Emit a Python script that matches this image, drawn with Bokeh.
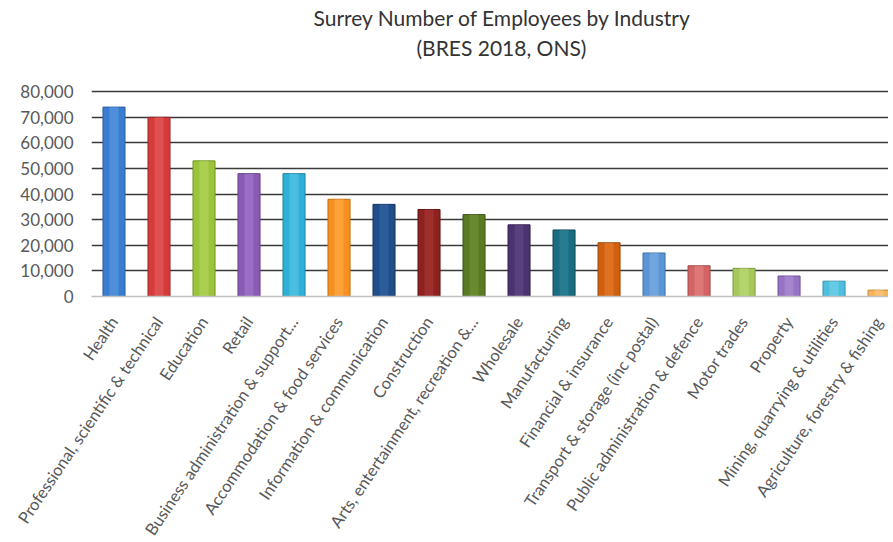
from bokeh.plotting import figure
from bokeh.models import (ColumnDataSource, Range1d, FixedTicker, NumeralTickFormatter, Title)
from bokeh.embed import file_html
from bokeh.resources import INLINE
import math

industries = [
    "Health", "Professional, scientific & technical", "Education", "Retail",
    "Business administration & support...", "Accommodation & food services",
    "Information & communication", "Construction", "Arts, entertainment, recreation &...",
    "Wholesale", "Manufacturing", "Financial & insurance", "Transport & storage (inc postal)",
    "Public administration & defence", "Motor trades", "Property",
    "Mining, quarrying & utilities", "Agriculture, forestry & fishing",
]
employees = [74000, 70000, 53000, 48000, 48000, 38000, 36000, 34000, 32000,
             28000, 26000, 21000, 17000, 12000, 11000, 8000, 6000, 2500]
bar_colors = ["#3A7CD0", "#D63B3B", "#9BC43C", "#8A5BB5", "#2FB0D6", "#F7901E",
              "#1F4E8A", "#8E2220", "#5A7A24", "#4B3370", "#1A6C80", "#D0600E",
              "#5B95D6", "#D46464", "#A6C95B", "#9673C4", "#4EC0DE", "#F5B45A"]
edge_colors = ["#2A5E9E", "#A02828", "#75952A", "#66428A", "#1F86A4", "#C06E10",
               "#143660", "#601614", "#3E5618", "#33224E", "#104A58", "#9C460A",
               "#3F70A8", "#A44848", "#7E9A40", "#70529A", "#3592AC", "#C88A3A"]
hi_colors = ["#6BA3E6", "#EC6A6A", "#BEE06A", "#AE85D6", "#6CD0EE", "#FFB860",
             "#3C6EAA", "#B2403C", "#7C9C3E", "#6B5294", "#3A90A4", "#F08A3A",
             "#8AB8EA", "#EC9090", "#C6E288", "#B89AE0", "#84DAF0", "#FFD08A"]
y_ticks = [0, 10000, 20000, 30000, 40000, 50000, 60000, 70000, 80000]
title_main = "Surrey Number of Employees by Industry"
title_sub = "(BRES 2018, ONS)"

xs = list(range(len(industries)))
src = ColumnDataSource(dict(x=xs, top=employees, color=bar_colors,
                            edge=edge_colors, hi=hi_colors))

p = figure(frame_width=797, frame_height=237, output_backend="svg",
           toolbar_location=None, x_range=Range1d(-0.5, 17.21),
           y_range=Range1d(0, 92600), min_border_left=91, min_border_right=0,
           min_border_top=0, min_border_bottom=0)
p.title = None
p.outline_line_color = None
p.background_fill_color = "white"

sub = Title(text=title_sub, align="left", offset=325, text_font="Lato",
            text_font_size="21px", text_font_style="normal", text_color="#333333",
            standoff=0)
main = Title(text=title_main, align="left", offset=222, text_font="Lato",
             text_font_size="21px", text_font_style="normal", text_color="#333333",
             standoff=5)
p.add_layout(sub, "above")
p.add_layout(main, "above")

p.vbar(x="x", top="top", width=0.49, bottom=0, source=src,
       fill_color="color", line_color="edge", line_width=1)
p.vbar(x="x", top="top", width=0.2, bottom=0, source=src,
       fill_color="hi", fill_alpha=0.45, line_color=None)

p.xgrid.visible = False
p.ygrid.ticker = FixedTicker(ticks=y_ticks[1:])
p.ygrid.grid_line_color = "#3a3a3a"
p.ygrid.grid_line_width = 1.4

p.yaxis.ticker = FixedTicker(ticks=y_ticks)
p.yaxis.formatter = NumeralTickFormatter(format="0,0")
p.yaxis.axis_line_color = None
p.yaxis.major_tick_line_color = None
p.yaxis.major_tick_out = 0
p.yaxis.minor_tick_line_color = None
p.yaxis.minor_tick_out = 0
p.yaxis.major_label_standoff = 18
p.yaxis.major_label_text_font = "Lato"
p.yaxis.major_label_text_font_size = "17px"
p.yaxis.major_label_text_color = "#595959"

p.xaxis.ticker = FixedTicker(ticks=xs)
p.xaxis.major_label_overrides = {i: n for i, n in zip(xs, industries)}
p.xaxis.axis_line_color = "#BFBFBF"
p.xaxis.axis_line_width = 1.5
p.xaxis.major_tick_line_color = None
p.xaxis.minor_tick_line_color = None
p.xaxis.major_label_orientation = math.radians(56)
p.xaxis.major_label_standoff = 16
p.xaxis.major_label_text_font = "Lato"
p.xaxis.major_label_text_font_size = "16.5px"
p.xaxis.major_label_text_color = "#595959"

open("out.html", "w").write(file_html(p, INLINE))
